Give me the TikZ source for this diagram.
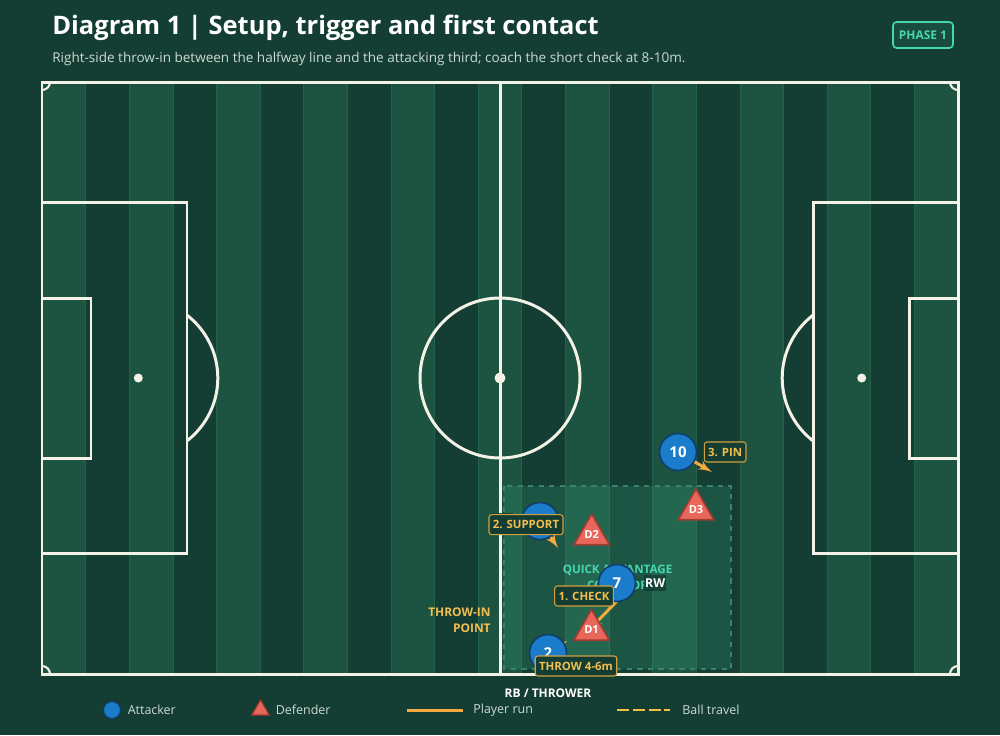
\documentclass[tikz,border=0pt]{standalone}
\usepackage{fontspec}
\setmainfont{Open Sans}
\usepackage{tikz}
\usetikzlibrary{arrows}
\usetikzlibrary{positioning}
\usetikzlibrary{shapes.geometric}

\definecolor{pitchdark}{HTML}{143E33}
\definecolor{pitchlight}{HTML}{1C5441}
\definecolor{stripeedge}{HTML}{23614A}
\definecolor{chalk}{HTML}{F4F1E6}
\definecolor{attblue}{HTML}{1B7CCC}
\definecolor{attedge}{HTML}{0F3D6B}
\definecolor{defred}{HTML}{E8675B}
\definecolor{defedge}{HTML}{A13A31}
\definecolor{runorange}{HTML}{F5A93F}
\definecolor{ballgold}{HTML}{F1C343}
\definecolor{calledge}{HTML}{D3A03F}
\definecolor{calltext}{HTML}{F2BE4E}
\definecolor{zonemint}{HTML}{46D7B0}
\definecolor{zonefill}{HTML}{46BE96}
\definecolor{zoneedge}{HTML}{3A8268}
\definecolor{greytext}{HTML}{CBDAD2}
\definecolor{badgefill}{HTML}{1A4C3E}

\begin{document}
\begin{tikzpicture}[x=0.02cm,y=-0.02cm,>=latex',
  chalk line/.style={draw=chalk,line width=1.7pt},
  attacker/.style={circle,fill=attblue,draw=attedge,line width=0.9pt,minimum size=0.74cm,inner sep=0pt,
    text=white,font=\fontsize{8.5}{9}\selectfont\bfseries},
  defender/.style={regular polygon,regular polygon sides=3,fill=defred,draw=defedge,line width=0.9pt,
    minimum size=0.81cm,inner sep=0pt,text=white,font=\fontsize{6.3}{7}\selectfont\bfseries},
  run/.style={->,draw=runorange,line width=1.7pt},
  ball/.style={->,draw=ballgold,line width=1.5pt,dash pattern=on 7pt off 2pt},
  call/.style={draw=calledge,fill=pitchdark,rounded corners=1.5pt,line width=0.6pt,text=calltext,
    font=\fontsize{6.5}{8}\selectfont\bfseries,inner xsep=2.2pt,inner ysep=0pt,minimum height=0.4cm},
  role/.style={fill=pitchdark,fill opacity=0.85,text opacity=1,text=white,inner sep=0pt,
    font=\fontsize{7}{8}\selectfont\bfseries,minimum height=0.32cm,minimum width=0.44cm},
  key/.style={anchor=west,inner sep=0pt,text=greytext,font=\fontsize{7.1}{8}\selectfont}]

  % background and grass stripes
  \fill[pitchdark] (0,0) rectangle (1000,735);
  \foreach \i in {0,2,...,20}
    \filldraw[fill=pitchlight,draw=stripeedge,line width=0.4pt] ({42+43.619*\i},82) rectangle ++(43.619,592);

  % markings
  \draw[chalk line] (42,82) rectangle (958,674);
  \draw[chalk line] (500,82) -- (500,674);
  \draw[chalk line] (500,378) circle (80);
  \fill[chalk] (500,378) circle (5.5);
  \draw[chalk line] (42,202.5) rectangle (187,553.5);
  \draw[chalk line] (42,298) rectangle (91,458);
  \draw[chalk line] (813,202.5) rectangle (958,553.5);
  \draw[chalk line] (909,298) rectangle (958,458);
  \fill[chalk] (138.3,378) circle (4.5);
  \fill[chalk] (861.7,378) circle (4.5);
  \begin{scope}
    \clip (187,82) rectangle (500,674);
    \draw[chalk line] (138.3,378) circle (79.5);
  \end{scope}
  \begin{scope}
    \clip (500,82) rectangle (813,674);
    \draw[chalk line] (861.7,378) circle (79.5);
  \end{scope}
  \begin{scope}
    \clip (42,82) rectangle (958,674);
    \foreach \cx/\cy in {42/82,958/82,42/674,958/674}
      \draw[chalk,line width=1.2pt] (\cx,\cy) circle (8);
  \end{scope}

  % zone
  \draw[zoneedge,line width=0.8pt,dashed,fill=zonefill,fill opacity=0.18] (504,486) rectangle (731,669);
  \node[text=zonemint,align=center,font=\fontsize{6.6}{9}\selectfont\bfseries] (zone) at (617.5,577)
    {QUICK ADVANTAGE\\CORRIDOR};

  % player spots
  \coordinate (p10) at (678,452);
  \coordinate (p7) at (617,583);
  \coordinate (psup) at (540,521);
  \coordinate (pthrow) at (548,653);
  \coordinate (r10) at (712,472);
  \coordinate (rsup) at (558,548);
  \coordinate (r7) at (589,630);
  \coordinate (rthrow) at (567,641);

  % runs and ball
  \draw[run] (p10) -- (r10);
  \draw[run] (psup) -- (rsup);
  \draw[run] ([yshift=-0.36cm]p7) -- (r7);
  \draw[ball] (pthrow) -- (rthrow);

  % attackers
  \node[attacker] (n10) at (p10) {10};
  \node[attacker] (n7) at (p7) {7};
  \node[attacker] (nsup) at (psup) {};
  \node[attacker] (nthrow) at (pthrow) {2};
  \node[role] (rw) [right=0.15cm of n7] {RW};
  \node[role] (suptag) [left=0.15cm of nsup] {};

  % defenders
  \node[defender] (d1) at (591.5,630) {D1};
  \node[defender] (d2) at (591.7,534.5) {D2};
  \node[defender] (d3) at (696,509.5) {D3};

  % callouts
  \node[call] (pin) [right=0.13cm of n10] {3. PIN};
  \node[call] (support) at (526,524.7) {2. SUPPORT};
  \node[call] (check) at (584,596) {1. CHECK};
  \node[call] (throw) at (576,666) {THROW 4-6m};

  \node[anchor=east,align=right,inner sep=0pt,text=calltext,font=\fontsize{6.8}{9}\selectfont\bfseries]
    (tipoint) at (491,620) {THROW-IN\\POINT};
  \node[text=white,font=\fontsize{6.8}{8}\selectfont\bfseries] (thrower) at (548,693) {RB / THROWER};

  % title
  \node[anchor=base west,inner sep=0pt,text=white,font=\fontsize{14.5}{17}\selectfont\bfseries]
    (title) at (52,34.5) {Diagram 1 | Setup, trigger and first contact};
  \node[anchor=base west,inner sep=0pt,text=greytext,font=\fontsize{7.7}{9}\selectfont]
    (subtitle) at (52,62.5) {Right-side throw-in between the halfway line and the attacking third; coach the short check at 8-10m.};
  \node[draw=zonemint,fill=badgefill,line width=0.9pt,rounded corners=2pt,minimum width=1.2cm,minimum height=0.52cm,
    inner sep=0pt,text=zonemint,font=\fontsize{6.8}{8}\selectfont\bfseries] (phase) at (923,35) {PHASE 1};

  % legend
  \node[attacker,minimum size=0.34cm,line width=0.6pt] (keyatt) at (112,710) {};
  \node[key] (keyatttxt) at (127.5,710) {Attacker};
  \node[defender,minimum size=0.4cm,line width=0.6pt] (keydef) at (260.5,710) {};
  \node[key] (keydeftxt) at (275.5,710) {Defender};
  \coordinate (runa) at (407,710);
  \coordinate (runb) at (463,710);
  \draw[run,-] (runa) -- (runb);
  \node[key] (keyruntxt) at (473,710) {Player run};
  \coordinate (balla) at (617,710);
  \coordinate (ballb) at (670,710);
  \draw[ball,-] (balla) -- (ballb);
  \node[key] (keyballtxt) at (682,710) {Ball travel};
\end{tikzpicture}
\end{document}
